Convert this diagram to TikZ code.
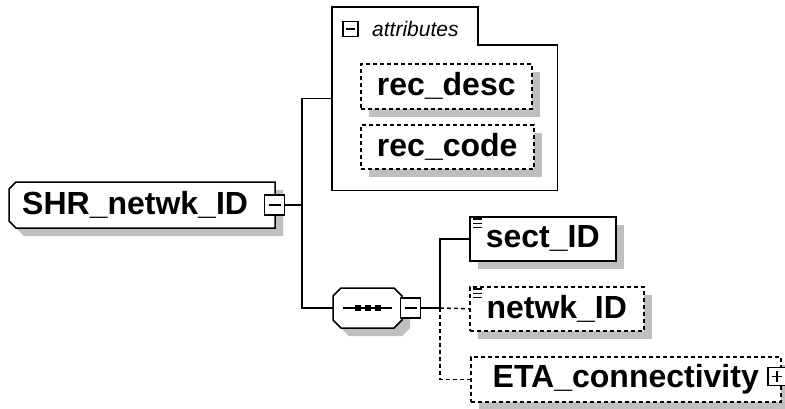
\documentclass[tikz,border=0pt]{standalone}
\usepackage{fontspec}
\setmainfont{Liberation Sans}
\usetikzlibrary{shadows}
\tikzset{
  xsdshadow/.style={drop shadow={shadow xshift=8pt,shadow yshift=-8pt,fill=black!25,opacity=1}},
  conn/.style={line width=1.5pt},
  optconn/.style={conn,dash pattern=on 4pt off 3pt},
  outline/.style={draw,fill=white,line width=1.5pt,xsdshadow},
  lbl/.style={inner sep=0pt,anchor=north west,font=\fontsize{32}{38}\selectfont\bfseries},
  elem/.style={lbl,draw,fill=white,line width=1.5pt,xsdshadow},
  optelem/.style={elem,dash pattern=on 4pt off 3pt},
  tog/.style={draw,fill=white,line width=1.5pt,minimum size=#1,inner sep=0pt},
  minusbox/.style={tog=#1,path picture={\draw[line width=1.5pt] ([xshift=-0.3*#1]path picture bounding box.center) -- ([xshift=0.3*#1]path picture bounding box.center);}},
  plusbox/.style={tog=#1,path picture={\draw[line width=1.5pt] ([xshift=-0.3*#1]path picture bounding box.center) -- ([xshift=0.3*#1]path picture bounding box.center) ([yshift=-0.3*#1]path picture bounding box.center) -- ([yshift=0.3*#1]path picture bounding box.center);}}
}
\begin{document}
\begin{tikzpicture}[x=1pt,y=-1pt]
  \useasboundingbox[fill=white] (0,0) rectangle (785,408);
  % root element
  \draw[outline] (16,182) -- (275,182) -- (275,228) -- (16,228) -- (9,221) -- (9,189) -- cycle;
  \node[lbl,minimum width=266pt,minimum height=46pt,text width=240pt,align=left] (root) at (9,182) {SHR\_netwk\_ID};
  \node[minusbox=20pt] (rootTog) at (274.5,205) {};
  \coordinate (fork) at (302,205);
  % attributes group
  \node[anchor=north west,minimum width=225pt,minimum height=183pt,inner sep=0pt] (attrs) at (332,7) {};
  \draw[conn] (attrs.north west) -- ++(146,0) -- ++(0,38) -| (attrs.south east) -- (attrs.south west) -- cycle;
  \node[minusbox=15pt] (attrTog) at (350.5,29) {};
  \node[anchor=west,inner sep=0pt,font=\fontsize{21}{24}\selectfont\itshape] (attrLbl) at (372,29) {attributes};
  \node[optelem,minimum width=171pt,minimum height=45pt] (recDesc) at (360,63) {rec\_desc};
  \node[optelem,minimum width=173pt,minimum height=44pt] (recCode) at (360,124) {rec\_code};
  % sequence
  \draw[outline] (341,288) -- (394,288) -- (402,296) -- (402,320) -- (394,328) -- (341,328) -- (333,320) -- (333,296) -- cycle;
  \node[anchor=north west,minimum width=69pt,minimum height=40pt,inner sep=0pt] (seq) at (333,288) {};
  \draw[conn] ([xshift=-25pt]seq.center) -- ([xshift=24pt]seq.center);
  \foreach \d in {-10,0,10}
    \fill ([xshift=\d pt]seq.center) +(-3,-3) rectangle +(3,3);
  \node[minusbox=20pt] (seqTog) at (410.5,308) {};
  \coordinate (branch) at (440,308);
  % children
  \node[elem,minimum width=146pt,minimum height=44pt] (sectID) at (469,216) {sect\_ID};
  \node[optelem,minimum width=174pt,minimum height=44pt] (netwkID) at (469,286) {netwk\_ID};
  \node[optelem,minimum width=310pt,minimum height=45pt] (etaConn) at (470,356) {ETA\_connectivity};
  \node[plusbox=18pt] (etaTog) at (777,376.5) {};
  \foreach \k in {0,1,2} {
    \draw[line width=1.3pt] (sectID.north west) ++(4,3+4.3*\k) -- ++(9,0);
    \draw[line width=1.3pt] (netwkID.north west) ++(4,3+4.3*\k) -- ++(9,0);
  }
  % connectors
  \draw[conn] (rootTog.east) -- (fork);
  \draw[conn] (attrs.west) -| (fork) |- (seq.west);
  \draw[conn] (seqTog.east) -- (branch);
  \draw[conn] (branch) |- (sectID.west);
  \draw[optconn] (branch) -- (netwkID.west);
  \draw[optconn] (branch) |- (etaConn.west);
\end{tikzpicture}
\end{document}
